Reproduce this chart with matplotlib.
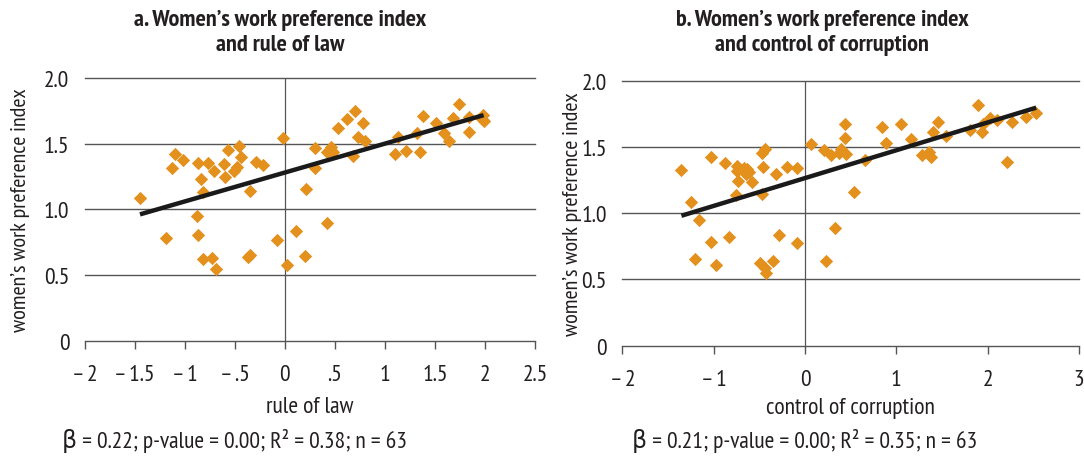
import numpy as np
import matplotlib
matplotlib.use("Agg")
import matplotlib.pyplot as plt
from matplotlib import font_manager

# narrow sans for all text, first one installed wins
installed = {f.name for f in font_manager.fontManager.ttflist}
narrow = [n for n in ['PT Sans Narrow', 'Fira Sans Condensed', 'Roboto Condensed',
                      'Encode Sans Condensed', 'Asap Condensed', 'Archivo Narrow',
                      'Open Sans Condensed', 'Liberation Sans Narrow'] if n in installed]
plt.rcParams['font.family'] = narrow[:1] + ['DejaVu Sans']

# panel a: rule of law vs. women's work preference index
rule_of_law = [-1.447, -1.19, -1.097, -1.123, -1.013, -0.863, -0.767, -0.837, -0.82, -0.88,
               -0.863, -0.82, -0.73, -0.687, -0.707, -0.603, -0.597, -0.563, -0.453, -0.44,
               -0.503, -0.473, -0.35, -0.37, -0.35, -0.283, -0.217, -0.02, -0.073, 0.02,
               0.113, 0.2, 0.213, 0.297, 0.297, 0.423, 0.42, 0.46, 0.477, 0.447,
               0.53, 0.623, 0.70, 0.677, 0.73, 0.78, 0.797, 1.103, 1.13, 1.21,
               1.32, 1.353, 1.38, 1.507, 1.587, 1.643, 1.68, 1.74, 1.837, 1.84,
               1.983, 1.987, 1.97]
wpi_a = [1.086, 0.782, 1.421, 1.317, 1.376, 1.350, 1.355, 1.231, 1.135, 0.952,
         0.805, 0.619, 0.632, 0.543, 1.289, 1.348, 1.246, 1.454, 1.485, 1.396,
         1.289, 1.325, 1.142, 0.635, 0.650, 1.358, 1.338, 1.541, 0.769, 0.579,
         0.832, 0.645, 1.157, 1.315, 1.47, 0.893, 1.434, 1.475, 1.434, 1.452,
         1.617, 1.688, 1.751, 1.409, 1.553, 1.655, 1.520, 1.421, 1.551, 1.447,
         1.581, 1.434, 1.713, 1.657, 1.581, 1.518, 1.693, 1.805, 1.700, 1.591,
         1.721, 1.670, 1.688]
beta_a, const_a = 0.22, 1.28
r2_a, n_a = 0.38, 63

# panel b: control of corruption vs. women's work preference index
control_corr = [-1.353, -1.251, -1.163, -1.207, -1.028, -1.028, -0.977, -0.875, -0.832, -0.744,
                -0.744, -0.729, -0.759, -0.664, -0.646, -0.609, -0.635, -0.58, -0.467, -0.438,
                -0.46, -0.467, -0.496, -0.434, -0.43, -0.354, -0.281, -0.321, -0.2, -0.084,
                -0.084, 0.062, 0.212, 0.226, 0.288, 0.328, 0.372, 0.39, 0.445, 0.434,
                0.434, 0.536, 0.656, 0.846, 0.883, 1.05, 1.163, 1.276, 1.353, 1.379,
                1.40, 1.459, 1.543, 1.809, 1.893, 1.933, 1.944, 2.02, 2.104, 2.217,
                2.268, 2.422, 2.531]
wpi_b = [1.326, 1.084, 0.951, 0.654, 1.426, 0.780, 0.611, 1.376, 0.820, 1.353,
         1.316, 1.245, 1.137, 1.338, 1.293, 1.313, 1.333, 1.233, 1.454, 1.482,
         1.351, 1.145, 0.626, 0.586, 0.548, 0.636, 0.833, 1.296, 1.351, 1.338,
         0.772, 1.519, 1.477, 0.636, 1.436, 0.888, 1.454, 1.484, 1.444, 1.565,
         1.673, 1.157, 1.399, 1.653, 1.527, 1.673, 1.557, 1.439, 1.459, 1.426,
         1.615, 1.686, 1.585, 1.628, 1.816, 1.610, 1.673, 1.716, 1.706, 1.389,
         1.691, 1.723, 1.754]
beta_b, const_b = 0.21, 1.265
r2_b, n_b = 0.35, 63

M = '\u2013\u200a'  # long minus used on the x ticks
ticks_a = [-2, -1.5, -1, -0.5, 0, 0.5, 1, 1.5, 2, 2.5]
ticklabels_a = [M + '2', M + '1.5', M + '1', M + '.5', '0', '.5', '1', '1.5', '2', '2.5']
ticks_b = [-2, -1, 0, 1, 2, 3]
ticklabels_b = [M + '2', M + '1', '0', '1', '2', '3']
yticks = [0, 0.5, 1.0, 1.5, 2.0]
yticklabels = ['0', '0.5', '1.0', '1.5', '2.0']

ORANGE = '#E3901C'
GRID = '#555555'
INK = '#231f20'
FS = 17
W, H = 1084, 460

fig = plt.figure(figsize=(W / 100, H / 100), dpi=100)


def panel(rect, x, y, beta, const, xticks, xlabels, xlabel, ylab_x, xlab_y):
    ax = fig.add_axes(rect)
    x = np.array(x)
    ax.set_xlim(xticks[0], xticks[-1])
    ax.set_ylim(0, 2.0)
    for v in yticks[1:]:
        ax.axhline(v, color=GRID, lw=1.0, zorder=1, clip_on=False)
    ax.plot([0, 0], [0, 2.0], color=GRID, lw=0.9, zorder=1)
    ax.scatter(x, y, marker='D', s=46, color=ORANGE, linewidths=0, zorder=3)
    xs = np.array([x.min(), x.max()])
    ax.plot(xs, const + beta * xs, color='#1a1a1a', lw=3.2, zorder=4,
            solid_capstyle='butt')
    for side in ['top', 'right', 'left']:
        ax.spines[side].set_visible(False)
    ax.spines['bottom'].set_color(GRID)
    ax.spines['bottom'].set_linewidth(1.0)
    ax.set_xticks(xticks)
    ax.set_xticklabels(xlabels)
    ax.set_yticks(yticks)
    ax.set_yticklabels(yticklabels)
    ax.tick_params(axis='x', direction='out', length=6, width=1.0, color=GRID,
                   labelsize=FS, labelcolor=INK, pad=11)
    ax.tick_params(axis='y', length=0, labelsize=FS, labelcolor=INK, pad=11)
    # label positions given in figure pixels
    l, b, w, h = rect
    ax.set_xlabel(xlabel, fontsize=FS, color=INK, va='center')
    ax.xaxis.set_label_coords(0.5, ((H - xlab_y) / H - b) / h)
    ax.set_ylabel("women\u2019s work preference index", fontsize=16,
                  color=INK, va='center')
    ax.yaxis.set_label_coords((ylab_x / W - l) / w, 0.5)
    return ax


ax_a = panel([0.0781, 0.2572, 0.4154, 0.5711], rule_of_law, wpi_a, beta_a, const_a,
             ticks_a, ticklabels_a, 'rule of law', 20, 408)
ax_b = panel([0.5741, 0.2463, 0.4213, 0.5761], control_corr, wpi_b, beta_b, const_b,
             ticks_b, ticklabels_b, 'control of corruption', 573, 409)

fig.text(280 / W, 1 - 33 / H,
         "a. Women\u2019s work preference index\nand rule of law",
         ha='center', va='center', fontsize=17.5, fontweight='bold',
         color=INK, linespacing=1.2)
fig.text(822 / W, 1 - 33 / H,
         "b. Women\u2019s work preference index\nand control of corruption",
         ha='center', va='center', fontsize=17.5, fontweight='bold',
         color=INK, linespacing=1.2)

fig.text(62 / W, 1 - 441 / H,
         "\u03b2 = %.2f; p-value = 0.00; R\u00b2 = %.2f; n = %d" % (beta_a, r2_a, n_a),
         ha='left', va='center', fontsize=FS, color=INK)
fig.text(632 / W, 1 - 441 / H,
         "\u03b2 = %.2f; p-value = 0.00; R\u00b2 = %.2f; n = %d" % (beta_b, r2_b, n_b),
         ha='left', va='center', fontsize=FS, color=INK)

fig.savefig('out.png', dpi=100, facecolor='white')
